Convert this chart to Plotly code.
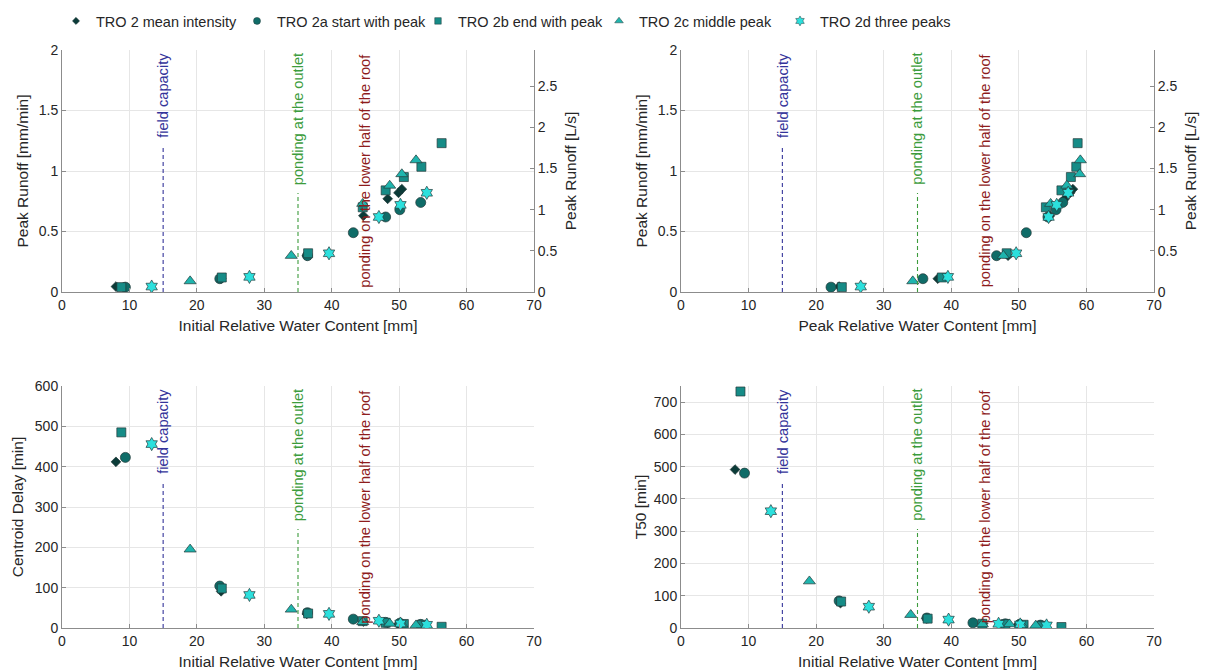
import plotly.graph_objects as go

# ---- event data: initial / peak relative water content [mm] ----
mean_init = [8.0, 23.6, 36.3, 44.7, 48.3, 49.9, 50.4]
start_init = [9.4, 23.4, 36.4, 43.2, 48.0, 50.1, 53.2]
end_init = [8.8, 23.7, 36.5, 44.6, 48.0, 50.7, 53.3, 56.3]
middle_init = [19.0, 34.0, 44.6, 48.6, 50.4, 52.5]
three_init = [13.3, 27.8, 39.6, 47.0, 50.2, 54.1]

mean_peakwc = [23.4, 38.0, 48.4, 54.6, 56.8, 57.6, 58.0]
start_peakwc = [22.2, 35.8, 46.7, 51.1, 54.3, 55.5, 56.5]
end_peakwc = [23.8, 38.6, 48.2, 54.0, 56.3, 57.7, 58.5, 58.7]
middle_peakwc = [34.3, 47.7, 54.7, 57.1, 59.0, 59.1]
three_peakwc = [26.6, 39.5, 49.6, 54.4, 55.6, 57.3]

# ---- peak runoff [mm/min] ----
mean_peak = [0.045, 0.11, 0.30, 0.63, 0.77, 0.82, 0.85]
start_peak = [0.04, 0.11, 0.30, 0.49, 0.62, 0.68, 0.74]
end_peak = [0.04, 0.12, 0.32, 0.70, 0.84, 0.95, 1.035, 1.23]
middle_peak = [0.09, 0.30, 0.73, 0.88, 0.975, 1.09]
three_peak = [0.045, 0.125, 0.32, 0.62, 0.72, 0.82]

# ---- centroid delay [min] ----
mean_cd = [412, 91, 35, 16, 12, 9, 8]
start_cd = [423, 104, 38, 22, 14, 12, 9]
end_cd = [485, 98, 36, 17, 13, 10, 8, 3]
middle_cd = [195, 46, 15, 11, 9, 7]
three_cd = [456, 82, 35, 18, 11, 8]

# ---- T50 [min] ----
mean_t50 = [491, 77, 30, 14, 12, 11, 10]
start_t50 = [480, 84, 31, 16, 13, 11, 9]
end_t50 = [733, 82, 29, 13, 12, 10, 7, 3]
middle_t50 = [145, 41, 12, 12, 10, 8]
three_t50 = [362, 66, 26, 13, 11, 8]

series_names = ["TRO 2 mean intensity", "TRO 2a start with peak", "TRO 2b end with peak",
                "TRO 2c middle peak", "TRO 2d three peaks"]

# reference lines (x position, label)
ref_x = [15, 35, 45]
ref_labels = ["field capacity", "ponding at the outlet", "ponding on the lower half of the roof"]

# mm/min -> L/s conversion for the secondary axis
LPS_PER_MMMIN = 1.47

# ---- styling ----
FONT = "Liberation Sans, Arial, sans-serif"
symbols = ["diamond", "circle", "square", "triangle-up", "hexagram"]
colors = ["#0b3b38", "#0f6c68", "#168c87", "#1fb5ae", "#2ce0dd"]
sizes = [7.5, 10, 9, 10.5, 10]
legend_sizes = [5.5, 7, 6.5, 7.5, 7.5]
ref_colors = ["#34349a", "#3c9c3c", "#8e1c1c"]
ref_line_top = [0.607, 0.409, 0.0]

XL = [62 / 1208, 534 / 1208]
XR = [681 / 1208, 1154 / 1208]
YT = [1 - 292 / 671, 1 - 50 / 671]
YB = [1 - 628 / 671, 1 - 386 / 671]

init_x = [mean_init, start_init, end_init, middle_init, three_init]
peak_x = [mean_peakwc, start_peakwc, end_peakwc, middle_peakwc, three_peakwc]
peak_y = [mean_peak, start_peak, end_peak, middle_peak, three_peak]
cd_y = [mean_cd, start_cd, end_cd, middle_cd, three_cd]
t50_y = [mean_t50, start_t50, end_t50, middle_t50, three_t50]

fig = go.Figure()

panels = [("x", "y", init_x, peak_y),
          ("x2", "y3", peak_x, peak_y),
          ("x3", "y5", init_x, cd_y),
          ("x4", "y6", init_x, t50_y)]

for xa, ya, xs, ys in panels:
    for i in range(5):
        fig.add_trace(go.Scatter(
            x=xs[i], y=ys[i], mode="markers", xaxis=xa, yaxis=ya,
            name=series_names[i], showlegend=False, legendgroup=series_names[i],
            marker=dict(symbol=symbols[i], size=sizes[i], color=colors[i],
                        line=dict(color="#243a3a", width=0.7))))

# secondary (L/s) axes carriers
for xa, ya in [("x", "y2"), ("x2", "y4")]:
    fig.add_trace(go.Scatter(x=[None], y=[None], xaxis=xa, yaxis=ya, mode="markers",
                             showlegend=False, hoverinfo="skip"))

# legend entries with small markers
for i in range(5):
    fig.add_trace(go.Scatter(
        x=[None], y=[None], mode="markers", name=series_names[i], legendgroup=series_names[i],
        marker=dict(symbol=symbols[i], size=legend_sizes[i], color=colors[i],
                    line=dict(color="#243a3a", width=0.5))))

axis_common = dict(showline=True, linecolor="#8c8c8c", linewidth=1, ticks="inside", ticklen=4,
                   tickcolor="#8c8c8c", showgrid=True, gridcolor="#e6e6e6", gridwidth=1,
                   zeroline=False, automargin=False,
                   tickfont=dict(size=14, color="#262626", family=FONT))
title_font = dict(size=15.5, color="#262626", family=FONT)


def xaxis(domain, anchor, title):
    return dict(axis_common, domain=domain, anchor=anchor, range=[0, 70], dtick=10, tick0=0,
                title=dict(text=title, font=title_font, standoff=8))


def yaxis(domain, anchor, rng, dtick, title, standoff):
    return dict(axis_common, domain=domain, anchor=anchor, range=rng, dtick=dtick, tick0=0,
                title=dict(text=title, font=title_font, standoff=standoff))


def yaxis_right(overlay, anchor):
    return dict(axis_common, overlaying=overlay, anchor=anchor, side="right",
                range=[0, 2 * LPS_PER_MMMIN], dtick=0.5, tick0=0, showgrid=False,
                title=dict(text="Peak Runoff [L/s]", font=title_font, standoff=8))


fig.update_layout(
    width=1208, height=671, margin=dict(l=0, r=0, t=0, b=0),
    paper_bgcolor="white", plot_bgcolor="white",
    font=dict(family=FONT, color="#262626"),
    xaxis=xaxis(XL, "y", "Initial Relative Water Content [mm]"),
    yaxis=yaxis(YT, "x", [0, 2], 0.5, "Peak Runoff [mm/min]", 6),
    yaxis2=yaxis_right("y", "x"),
    xaxis2=xaxis(XR, "y3", "Peak Relative Water Content [mm]"),
    yaxis3=yaxis(YT, "x2", [0, 2], 0.5, "Peak Runoff [mm/min]", 6),
    yaxis4=yaxis_right("y3", "x2"),
    xaxis3=xaxis(XL, "y5", "Initial Relative Water Content [mm]"),
    yaxis5=yaxis(YB, "x3", [0, 600], 100, "Centroid Delay [min]", 7),
    xaxis4=xaxis(XR, "y6", "Initial Relative Water Content [mm]"),
    yaxis6=yaxis(YB, "x4", [0, 750], 100, "T50 [min]", 3),
    legend=dict(orientation="h", x=(76 - 20) / 1208, xanchor="left", y=1 - 21 / 671,
                yanchor="middle", font=dict(size=14.5, color="#262626", family=FONT),
                bgcolor="rgba(0,0,0,0)", itemwidth=30,
                entrywidth=136, entrywidthmode="pixels"),
)

# reference lines with their labels in every panel
shapes, annotations = [], []
for xa, ya in [("x", "y"), ("x2", "y3"), ("x3", "y5"), ("x4", "y6")]:
    for xv, label, col, top in zip(ref_x, ref_labels, ref_colors, ref_line_top):
        if top > 0:
            shapes.append(dict(type="line", xref=xa, yref=ya + " domain", x0=xv, x1=xv,
                               y0=0, y1=top, line=dict(color=col, width=1.1, dash="4px,3px")))
        annotations.append(dict(xref=xa, yref=ya + " domain", x=xv, y=0.995, text=label,
                                textangle=-90, xanchor="center", yanchor="top", showarrow=False,
                                font=dict(size=14.6, color=col, family=FONT)))
fig.update_layout(shapes=shapes, annotations=annotations)

fig.write_html("out.html", post_script="document.body.style.margin='0';")
